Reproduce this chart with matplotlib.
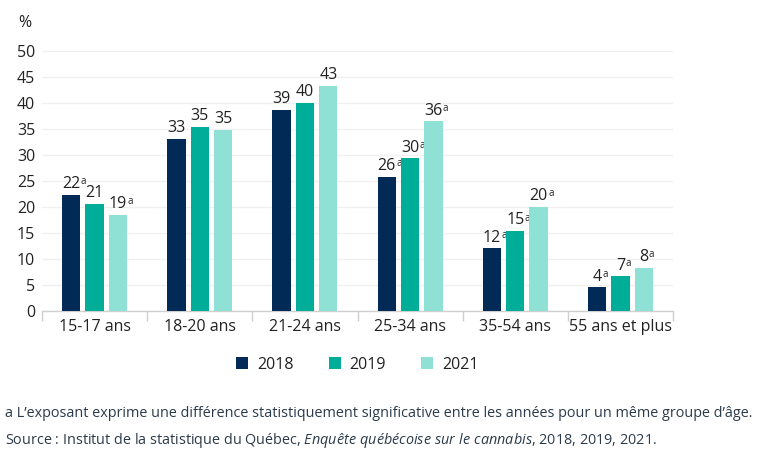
import matplotlib
matplotlib.use("Agg")
import matplotlib.pyplot as plt
import numpy as np

# Data (percent)
groups = ["15-17 ans", "18-20 ans", "21-24 ans", "25-34 ans", "35-54 ans", "55 ans et plus"]
years = ["2018", "2019", "2021"]
v2018 = [22.3, 33.0, 38.6, 25.8, 12.0, 4.5]
v2019 = [20.6, 35.3, 39.9, 29.3, 15.3, 6.6]
v2021 = [18.5, 34.8, 43.3, 36.4, 20.0, 8.3]
lab2018 = ["22", "33", "39", "26", "12", "4"]
lab2019 = ["21", "35", "40", "30", "15", "7"]
lab2021 = ["19", "35", "43", "36", "20", "8"]
sig2018 = [True, False, False, True, True, True]
sig2019 = [False, False, False, True, True, True]
sig2021 = [True, False, False, True, True, True]
yticks = [0, 5, 10, 15, 20, 25, 30, 35, 40, 45, 50]

colors = ["#022a57", "#00ad98", "#8fe1d5"]
text_col = "#222222"

plt.rcParams["font.family"] = ["Open Sans", "DejaVu Sans"]
plt.rcParams["mathtext.fontset"] = "custom"
plt.rcParams["mathtext.rm"] = "Open Sans"
plt.rcParams["mathtext.it"] = "Open Sans:italic"

fig = plt.figure(figsize=(7.68, 4.59), dpi=100)
ax = fig.add_axes([0.0547, 0.323, 0.8216, 0.5665])

x = np.arange(len(groups))
width = 0.174
pitch = 0.222
series = [(v2018, lab2018, sig2018), (v2019, lab2019, sig2019), (v2021, lab2021, sig2021)]

for i, (vals, labs, sigs) in enumerate(series):
    xpos = x + (i - 1) * pitch
    ax.bar(xpos, vals, width, color=colors[i], label=years[i], zorder=3)
    for xp, v, lab, s in zip(xpos, vals, labs, sigs):
        t = ax.annotate(lab, xy=(xp, v), xytext=(0, 2), textcoords="offset points",
                        ha="center", va="bottom", fontsize=11.5, color=text_col)
        if s:
            # superscript "a" next to the value
            ax.annotate("a", xy=(1.0, 0.97), xycoords=t, xytext=(0.3, 0),
                        textcoords="offset points", ha="left", va="top",
                        fontsize=7, color=text_col)

ax.set_xlim(-0.5, len(groups) - 0.5)
ax.set_ylim(0, 50)
ax.set_yticks(yticks)
ax.set_xticks(x)
ax.set_xticklabels(groups)
ax.set_xticks(np.arange(-0.5, len(groups)), minor=True)

ax.tick_params(axis="y", length=0, pad=5, labelsize=11.5, labelcolor=text_col)
ax.tick_params(axis="x", which="major", length=0, pad=6, labelsize=11.5, labelcolor=text_col)
ax.tick_params(axis="x", which="minor", length=7, width=1, color="#cfcfcf", direction="out")

for s in ["top", "right", "left"]:
    ax.spines[s].set_visible(False)
ax.spines["bottom"].set_color("#cfcfcf")
ax.spines["bottom"].set_linewidth(1)

ax.yaxis.grid(True, color="#f0f0f0", linewidth=1, zorder=0)
ax.set_axisbelow(True)

fig.text(0.024, 0.95, "%", fontsize=11.5, color=text_col, ha="left", va="center")

ax.legend(loc="center", bbox_to_anchor=(0.5, -0.207), ncol=3, frameon=False,
          fontsize=11.5, handlelength=0.75, handleheight=0.75, handletextpad=0.55,
          columnspacing=2.2, labelcolor=text_col)

foot_col = "#2b3a4a"
fig.text(0.006, 0.1, "a L\u2019exposant exprime une diff\u00e9rence statistiquement significative "
         "entre les ann\u00e9es pour un m\u00eame groupe d\u2019\u00e2ge.",
         fontsize=10.35, color=foot_col, ha="left", va="center")
fig.text(0.006, 0.041,
         "Source : Institut de la statistique du Qu\u00e9bec, $\\mathit{Enqu\u00eate\\ qu\u00e9b\u00e9coise\\ sur\\ le\\ cannabis}$, 2018, 2019, 2021.",
         fontsize=10.35, color=foot_col, ha="left", va="center")

fig.savefig("out.png", dpi=100)
